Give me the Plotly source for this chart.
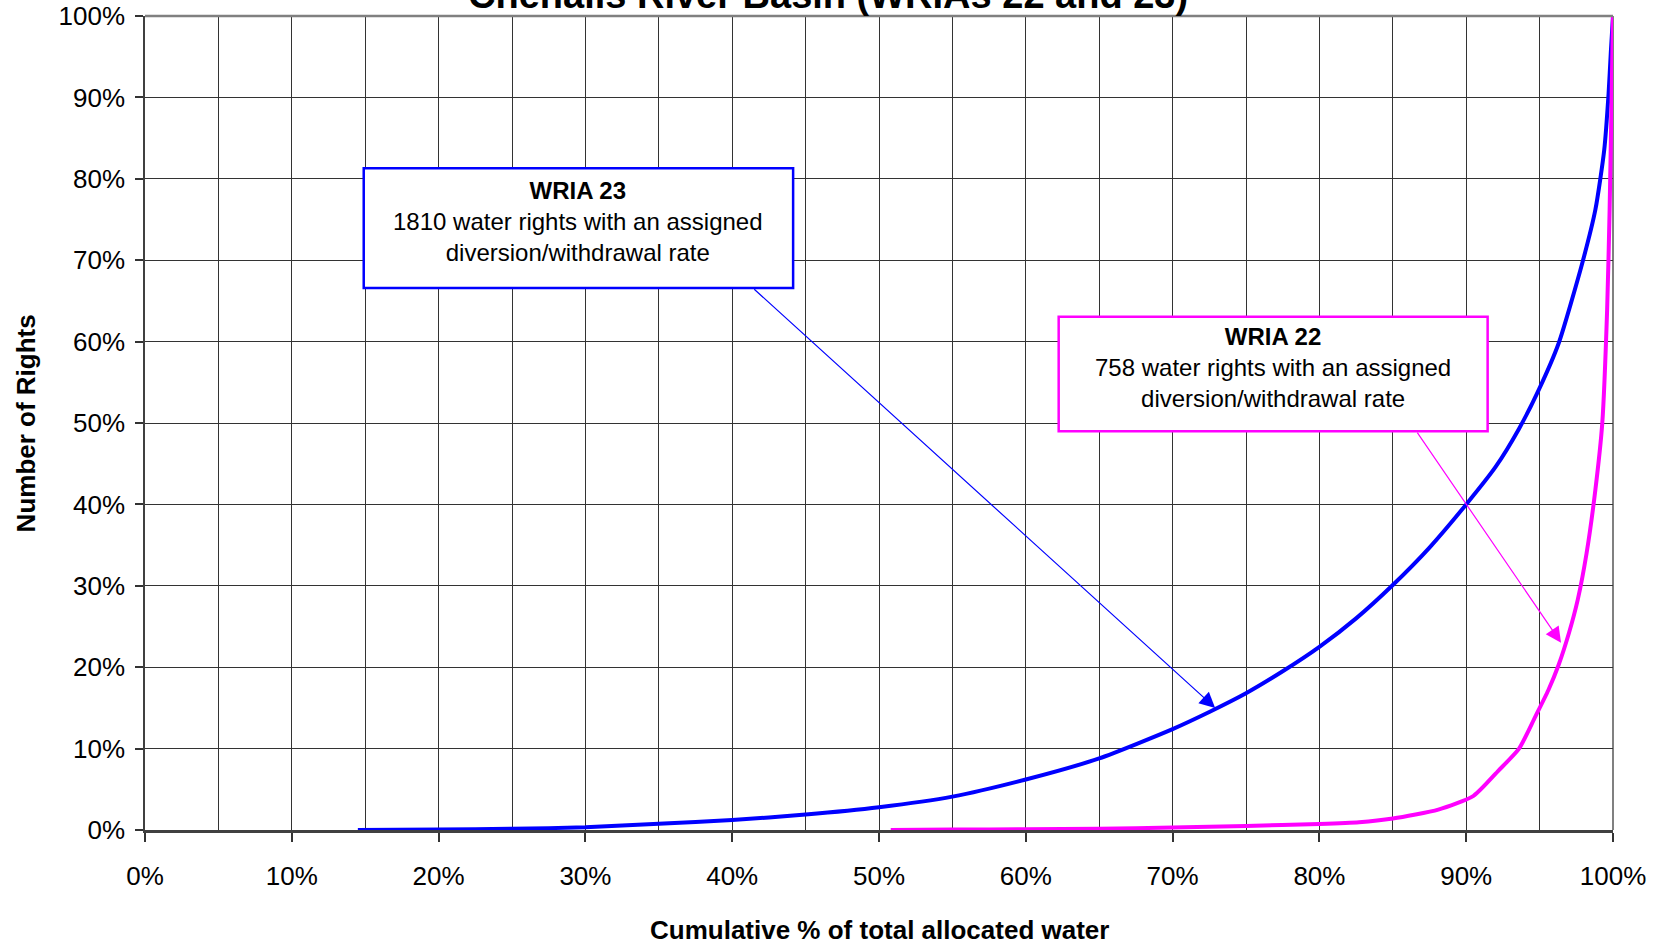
import plotly.graph_objects as go

# ---- data (percent values) ----
wria23_x = [14.5, 20, 25, 30, 35, 40, 45, 50, 55, 60, 65, 70, 72.5, 75, 77.5, 80, 82.5, 85, 87.5, 90,
            92, 93.6, 94.95, 96.3, 97.9, 98.8, 99.4, 99.7, 99.85, 100]
wria23_y = [0, 0.05, 0.15, 0.33, 0.77, 1.23, 1.9, 2.8, 4.1, 6.2, 8.8, 12.4, 14.5, 16.8, 19.5, 22.5, 26.0, 30.1, 34.7, 40,
            44.6, 49.3, 54.1, 59.8, 69.6, 76.2, 83.5, 90.5, 95.5, 100]

wria22_x = [50.8, 55, 60, 65, 70, 75, 80, 82.7, 85, 88.1, 90.5, 92.2, 93.6, 94.7, 95.6, 96.3, 97, 97.6, 98.2,
            98.8, 99.27, 99.6, 99.77, 99.89, 100]
wria22_y = [0, 0.05, 0.1, 0.15, 0.3, 0.5, 0.74, 0.95, 1.4, 2.5, 4.2, 7.3, 10, 13.9, 17.2, 20.3, 24.2, 28.3, 34,
            41.8, 50, 63.9, 76.2, 88.5, 100]

x_ticks = [i / 10 for i in range(11)]
x_tick_labels = [f"{i * 10}%" for i in range(11)]
y_ticks = [i / 10 for i in range(11)]
y_tick_labels = [f"{i * 10}%" for i in range(11)]

title_text = "Chehalis River Basin (WRIAs 22 and 23)"
x_title = "Cumulative % of total allocated water"
y_title = "Number of Rights"

box23_text = "<b>WRIA 23</b><br>1810 water rights with an assigned<br>diversion/withdrawal rate"
box22_text = "<b>WRIA 22</b><br>758 water rights with an assigned<br>diversion/withdrawal rate"

FONT = "Liberation Sans, Arial, sans-serif"
BLUE = "#0000FF"
MAG = "#FF00FF"

def frac(v):
    return [a / 100 for a in v]

fig = go.Figure()
fig.add_trace(go.Scatter(x=frac(wria23_x), y=frac(wria23_y), mode="lines",
                         line=dict(color=BLUE, width=4, shape="spline", smoothing=0.6),
                         name="WRIA 23", hoverinfo="skip"))
fig.add_trace(go.Scatter(x=frac(wria22_x), y=frac(wria22_y), mode="lines",
                         line=dict(color=MAG, width=4, shape="spline", smoothing=0.6),
                         name="WRIA 22", hoverinfo="skip"))

# boxes
fig.add_shape(type="rect", xref="x", yref="y", x0=0.149, x1=0.4415, y0=0.666, y1=0.813,
              line=dict(color=BLUE, width=2.5), fillcolor="white", layer="above")
fig.add_shape(type="rect", xref="x", yref="y", x0=0.6224, x1=0.9146, y0=0.490, y1=0.6306,
              line=dict(color=MAG, width=2.5), fillcolor="white", layer="above")

# top / right border
fig.add_shape(type="line", xref="paper", yref="paper", x0=0, x1=1, y0=1, y1=1,
              line=dict(color="#808080", width=2.5), layer="above")
fig.add_shape(type="line", xref="paper", yref="paper", x0=1, x1=1, y0=0, y1=1,
              line=dict(color="#808080", width=2), layer="below")

ann = []
ann.append(dict(xref="x", yref="y", x=(0.149 + 0.4415) / 2, y=0.7475, text=box23_text,
                showarrow=False, xanchor="center", yanchor="middle",
                font=dict(family=FONT, size=24, color="black")))
ann.append(dict(xref="x", yref="y", x=(0.6224 + 0.9146) / 2, y=0.568, text=box22_text,
                showarrow=False, xanchor="center", yanchor="middle",
                font=dict(family=FONT, size=24, color="black")))
# arrows
ann.append(dict(xref="x", yref="y", axref="x", ayref="y", x=0.729, y=0.150, ax=0.414, ay=0.666,
                text="", showarrow=True, arrowhead=2, arrowsize=2.6, arrowwidth=1.2, arrowcolor=BLUE))
ann.append(dict(xref="x", yref="y", axref="x", ayref="y", x=0.9646, y=0.230, ax=0.866, ay=0.490,
                text="", showarrow=True, arrowhead=2, arrowsize=2.6, arrowwidth=1.2, arrowcolor=MAG))
# titles
ann.append(dict(xref="paper", yref="paper", x=0.465, y=1.0, text=f"<b>{title_text}</b>",
                showarrow=False, xanchor="center", yanchor="bottom", yshift=-2,
                font=dict(family=FONT, size=38, color="black")))
ann.append(dict(xref="paper", yref="paper", x=0.5, y=-0.1228, text=f"<b>{x_title}</b>",
                showarrow=False, xanchor="center", yanchor="middle",
                font=dict(family=FONT, size=26, color="black")))
ann.append(dict(xref="paper", yref="paper", x=-0.0808, y=0.5, text=f"<b>{y_title}</b>",
                showarrow=False, xanchor="center", yanchor="middle", textangle=-90,
                font=dict(family=FONT, size=26, color="black")))

fig.update_layout(
    width=1663, height=942,
    margin=dict(l=145, r=50, t=16, b=112, autoexpand=False),
    paper_bgcolor="white", plot_bgcolor="white",
    showlegend=False,
    annotations=ann,
    font=dict(family=FONT, size=26, color="black"),
    xaxis=dict(range=[0, 1], tickvals=x_ticks, ticktext=x_tick_labels,
               showgrid=True, gridcolor="#333333", gridwidth=1,
               minor=dict(dtick=0.05, tick0=0, showgrid=True, gridcolor="#333333", gridwidth=1, ticks=""),
               ticks="outside", ticklen=9, tickcolor="#333333", tickwidth=1.5,
               showline=True, linecolor="#404040", linewidth=2.5,
               ticklabelstandoff=12, zeroline=False, automargin=False,
               tickfont=dict(family=FONT, size=26, color="black")),
    yaxis=dict(range=[0, 1], tickvals=y_ticks, ticktext=y_tick_labels,
               showgrid=True, gridcolor="#333333", gridwidth=1,
               ticks="outside", ticklen=8, tickcolor="#333333", tickwidth=1.5,
               showline=True, linecolor="#404040", linewidth=1.5,
               ticklabelstandoff=5, zeroline=False, automargin=False,
               tickfont=dict(family=FONT, size=26, color="black")),
)

# remove the browser's default body margin so the figure sits at the page origin
fig.write_html("out.html", config={"displayModeBar": False},
               post_script="document.body.style.margin='0';document.body.style.overflow='hidden';")
